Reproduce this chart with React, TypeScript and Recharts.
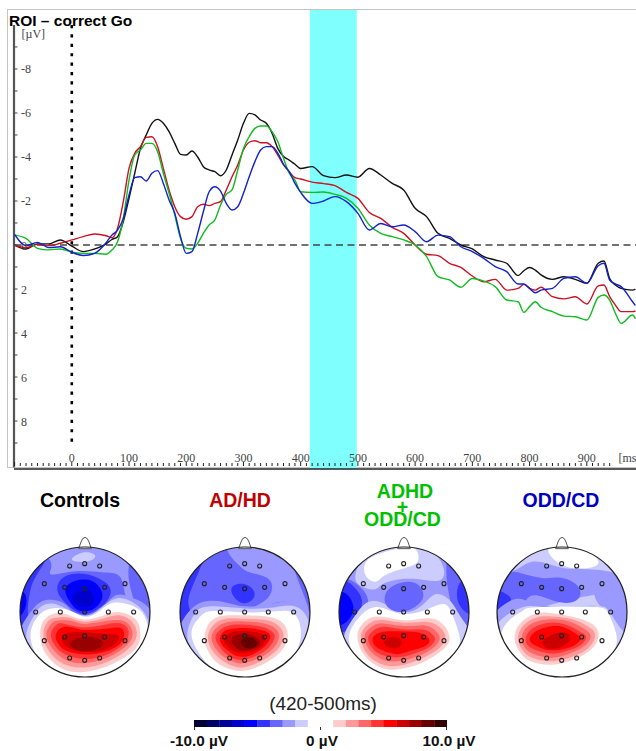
import React from 'react';
import {
  LineChart, Line, XAxis, YAxis, ReferenceArea, ReferenceLine,
  ScatterChart, Scatter, Curve, BarChart, Bar, Cell,
} from 'recharts';

// ---------- ERP waveforms ----------
const times = [-100,-80,-60,-40,-20,0,20,40,60,
  70,80,90,100,110,120,130,140,150,160,170,180,190,200,210,220,230,240,250,260,270,
  280,290,300,310,320,330,340,350,360,370,380,390,400,
  420,440,460,480,500,520,540,560,580,600,620,640,660,680,700,720,740,760,780,
  790,800,810,820,840,860,880,900,920,930,940,950,960,980,985];
const controls = [0,.18,-.05,-.05,-.23,.05,.3,.18,-.05,
  -.25,-.38,-1.06,-2.12,-3.26,-4.39,-5.0,-5.53,-5.71,-5.53,-5.15,-4.62,-4.12,-4.09,-4.27,-4.0,-3.56,-3.41,-3.33,-3.15,-3.41,
  -4.09,-4.77,-5.53,-5.98,-5.91,-5.68,-5.53,-5.08,-4.39,-4.02,-3.86,-3.67,-3.48,
  -3.56,-3.15,-3.06,-3.18,-3.08,-3.48,-3.18,-2.8,-2.5,-1.67,-1.29,-.53,-.3,0,.18,.53,.68,.83,1.39,
  1.17,1.02,1.14,1.36,1.56,1.44,1.56,1.74,.83,.73,1.52,1.82,1.97,2.05,2.0];
const adhd = [0,.12,-.03,.03,-.08,-.23,-.38,-.5,-.42,
  -.33,-.76,-1.97,-3.48,-4.17,-4.47,-4.89,-4.92,-4.47,-3.48,-2.5,-1.74,-1.29,-1.17,-1.29,-1.74,-1.85,-1.79,-1.89,-1.97,-2.5,
  -3.1,-3.64,-4.32,-4.67,-4.74,-4.65,-4.65,-4.47,-4.09,-3.64,-3.33,-3.06,-3.0,
  -2.86,-2.79,-2.7,-2.39,-2.12,-1.48,-1.21,-.8,-.53,0,.42,.48,.83,1.02,1.41,1.67,1.56,2.05,1.97,
  1.79,1.97,2.05,1.92,2.35,2.45,2.35,2.68,1.86,1.82,2.35,2.73,3.03,3.03,3.0];
const comorbid = [-.45,-.3,.15,.22,.18,.33,.38,.38,.42,
  .23,-.15,-1.2,-2.95,-4.09,-4.32,-4.62,-4.62,-4.24,-3.26,-2.35,-1.36,-.3,.15,.18,-.08,-.53,-.91,-1.14,-1.82,-2.3,
  -2.5,-3.41,-4.39,-4.92,-5.3,-5.41,-5.41,-5.15,-4.7,-3.94,-3.26,-2.95,-2.42,
  -2.39,-2.41,-2.3,-2.12,-1.67,-.91,-.53,-.38,-.23,0,.53,1.44,1.59,1.92,1.52,1.64,1.89,2.5,2.58,
  3.06,2.8,2.58,2.83,3.03,3.23,3.26,3.41,2.38,2.27,2.5,3.1,3.56,3.18,3.35];
const oddcd = [-.48,.03,-.12,.12,.08,.33,.48,.38,-.1,
  -.45,-.68,-1.21,-2.27,-3.06,-3.1,-2.91,-3.26,-3.38,-2.8,-2.05,-1.44,-.38,.38,.3,-.53,-1.52,-2.42,-2.65,-2.45,-1.89,
  -1.59,-1.74,-2.35,-3.1,-3.79,-4.32,-4.47,-4.47,-4.17,-3.67,-3.33,-2.8,-2.39,
  -1.89,-2.0,-2.2,-1.97,-1.44,-.68,-.98,-.83,-.91,-.61,-.15,-.45,-.38,.08,.3,.61,.98,1.21,1.77,
  1.77,1.97,2.17,2.05,1.97,1.52,1.44,1.74,.94,.83,1.59,1.77,1.89,2.58,2.75];
const erpData = times.map((t, i) => ({ t, controls: controls[i], adhd: adhd[i], comorbid: comorbid[i], oddcd: oddcd[i] }));

const xTicks = Array.from({ length: 106 }, (_, i) => -100 + i * 10).filter((t) => t <= 950);
const xLabels = [0, 100, 200, 300, 400, 500, 600, 700, 800, 900];
const yTicks = [-10,-9,-8,-7,-6,-5,-4,-3,-2,-1,0,1,2,3,4,5,6,7,8,9,10];
const yLabels = [-8,-6,-4,-2,0,2,4,6,8];

// ---------- scalp maps: colours ----------
const B1 = '#ccccff', B2 = '#9999ff', B3 = '#6666ff', B4 = '#3333ff', B5 = '#0000ff', B6 = '#0000cc';
const W = '#ffffff';
const R1 = '#ffcccc', R2 = '#ff9999', R3 = '#ff6666', R4 = '#ff3333', R5 = '#ff0000', R6 = '#cc0000', R7 = '#990000', R8 = '#660000';

type BandRow = [string, number[]];

// offsets of the electrodes from the head centre
const electrodes = [[-46,-138],[-1,-145],[44,-138],[-122,-85],[-61,-74],[-1,-70],[59,-74],[120,-85],
  [-148,0],[-74,0],[-1,0],[70,0],[146,0],[-122,86],[-61,75],[-1,71],[59,75],[120,86],[-46,138],[-1,145],[44,138]];

const bandsControls: BandRow[] = [
  [B3, [7,-19,445,-19,445,449,7,449]],
  [B4, [10,220,35,150,65,85,105,60,78,110,62,160,55,220,60,240,30,280]],
  [B5, [15,165,42,165,42,205,15,225]],
  [B2, [125,10,135,60,128,98,200,92,280,100,330,115,350,178,378,195,345,90,335,10]],
  [B2, [35,290,50,240,75,205,110,183,160,190,190,215,226,225,280,200,320,168,370,178,412,205,425,260,405,335,330,405,226,425,120,405,60,355]],
  [B1, [55,290,72,235,95,203,130,193,170,205,226,222,270,205,320,178,370,192,402,222,415,270,398,335,330,395,226,420,140,400,82,348]],
  [W, [68,290,82,240,110,213,150,206,190,215,226,227,265,215,300,193,345,193,388,213,408,255,403,315,350,380,280,420,226,430,150,405,93,355]],
  [B4, [148,145,170,112,226,105,278,125,298,150,288,182,256,208,226,218,195,208,162,178]],
  [B5, [172,150,200,125,245,125,270,150,272,178,248,204,213,208,188,188]],
  [B6, [193,172,225,152,248,168,242,192,213,194]],
  [B1, [192,54,225,38,252,48,232,62,205,62]],
  [R1, [96,290,102,248,130,225,170,222,226,236,290,222,330,219,372,238,386,280,368,328,300,370,226,390,160,380,112,338]],
  [R2, [105,285,116,248,140,235,180,232,226,243,290,232,330,229,365,248,376,285,353,323,295,360,226,377,165,367,122,331]],
  [R3, [114,285,128,252,150,243,190,242,226,250,290,242,330,242,355,255,364,285,343,318,290,350,226,365,170,355,132,323]],
  [R4, [127,285,143,257,170,252,226,260,290,252,330,252,351,268,349,297,323,323,280,345,226,353,170,340,142,318]],
  [R5, [141,288,157,265,190,262,226,268,290,265,328,265,339,285,323,313,280,333,226,340,175,330,152,313]],
  [R6, [161,295,178,279,226,277,285,282,320,288,309,313,270,330,226,333,190,327,168,313]],
  [R7, [187,311,213,295,252,294,275,310,252,327,213,329]],
];
const bandsAdhd: BandRow[] = [
  [B3, [484,-19,922,-19,922,449,484,449]],
  [B4, [495,215,515,150,570,72,545,140,535,190,540,232,525,275,500,255]],
  [B2, [668,10,690,70,722,97,772,120,772,165,742,192,716,214,782,194,842,188,888,210,864,130,842,70,805,10]],
  [B2, [510,290,527,235,572,192,640,187,703,197,780,192,840,187,888,217,900,280,864,355,780,405,703,420,620,405,546,355]],
  [B1, [536,290,557,228,600,202,703,205,790,202,847,202,884,238,880,303,834,370,760,405,703,415,620,400,566,354]],
  [W, [550,290,572,238,610,215,703,217,790,215,842,222,864,265,854,324,803,380,720,406,660,406,597,369]],
  [B4, [667,147,700,135,726,155,718,178,688,181]],
  [R1, [586,290,602,248,640,229,703,227,770,232,813,253,824,296,793,344,730,380,680,387,628,369,597,333]],
  [R2, [596,290,612,256,650,237,703,237,766,242,803,263,812,296,783,339,725,370,680,377,638,359,607,328]],
  [R3, [606,290,622,263,655,247,703,245,761,252,793,270,799,296,773,334,720,360,680,365,643,349,617,323]],
  [R4, [618,290,637,266,670,255,710,255,756,262,783,278,786,298,763,329,720,350,680,355,648,339,629,318]],
  [R5, [631,292,647,272,680,265,715,265,752,272,774,290,753,322,715,343,680,345,652,329,636,313]],
  [R6, [645,295,668,277,710,275,748,282,759,301,738,326,700,335,670,330,651,315]],
  [R7, [667,298,695,284,728,292,743,311,711,327,683,323]],
  [R8, [694,305,715,294,736,308,715,322]],
];
const bandsCombined: BandRow[] = [
  [B2, [15,-19,453,-19,453,449,15,449]],
  [B1, [96,92,122,46,170,25,252,20,326,52,336,114,260,114,180,128,148,144,102,129]],
  [W, [122,100,128,62,170,40,225,25,262,28,270,62,235,82,180,102,150,120]],
  [B3, [372,60,412,125,440,215,430,280,392,254,377,190,366,128]],
  [B4, [410,130,430,178,435,215,398,182]],
  [B3, [25,170,57,125,93,138,120,170,120,212,103,254,60,278,25,245]],
  [B4, [25,210,47,135,83,147,103,180,94,224,62,266,30,255]],
  [B5, [25,178,56,165,77,200,62,236,25,245]],
  [B1, [60,300,82,242,113,201,160,186,230,212,290,191,330,166,372,186,399,226,425,270,420,314,373,375,302,410,230,415,160,405,96,364]],
  [W, [75,300,92,248,128,212,170,204,230,219,300,208,352,196,379,233,395,280,390,324,343,380,272,405,230,415,170,405,106,359]],
  [B3, [183,165,213,136,262,131,286,160,274,189,232,210,192,199]],
  [R1, [100,290,117,252,160,231,235,241,300,236,344,252,365,290,349,324,297,360,235,380,175,380,121,344]],
  [R2, [110,290,127,259,165,241,235,248,295,246,336,262,353,292,334,324,292,350,235,370,178,370,128,339]],
  [R3, [120,290,137,265,170,251,235,258,290,256,324,272,337,295,319,322,282,343,235,357,180,357,136,329]],
  [R4, [130,295,147,272,180,261,235,268,285,268,314,282,323,300,304,322,272,335,225,348,175,343,144,324]],
  [R5, [145,300,167,278,235,276,282,281,305,300,289,319,252,330,215,340,175,330,154,319]],
  [R6, [178,308,200,293,223,305,205,322]],
];
const bandsOdd: BandRow[] = [
  [B1, [490,-19,928,-19,928,449,490,449]],
  [W, [680,25,740,18,808,60,772,80,720,75,686,52]],
  [B2, [490,110,555,100,620,66,700,82,770,87,864,102,860,138,820,160,650,195,490,240]],
  [B2, [816,155,884,114,925,180,915,280,870,254,838,207]],
  [B3, [490,165,548,110,580,100,650,114,702,114,750,138,750,173,702,184,640,169,602,184,572,230,530,265,490,240]],
  [B4, [490,155,538,166,542,188,490,207]],
  [B2, [490,250,560,186,620,190,709,200,810,200,860,230,880,280,860,360,780,400,709,415,620,400,540,350,500,300]],
  [B1, [520,290,537,238,590,205,640,200,709,203,800,200,844,212,875,258,890,292,855,354,792,395,709,418,618,400,566,364]],
  [W, [535,300,557,242,600,213,640,203,790,203,839,222,865,280,855,334,793,390,720,410,648,400,587,364]],
  [R1, [571,295,587,252,630,224,680,221,740,231,794,252,813,285,794,324,742,355,680,370,618,360,587,334]],
  [R2, [581,295,597,257,635,234,680,231,737,238,786,262,803,287,784,322,737,347,680,360,623,350,595,329]],
  [R3, [591,295,607,262,640,244,685,239,732,246,776,269,790,290,774,316,732,337,680,350,628,340,604,324]],
  [R4, [603,297,619,269,650,254,690,249,730,258,764,277,777,292,759,316,722,330,680,338,638,330,615,319]],
  [R5, [616,297,632,275,660,263,695,259,727,268,754,285,760,298,738,317,700,327,665,327,635,316]],
  [R6, [655,305,678,287,712,279,730,295,708,316,672,322]],
];

const heads = [
  { left: 12.3, cz: 226, bands: bandsControls },
  { left: 171.5, cz: 703, bands: bandsAdhd },
  { left: 331, cz: 234, bands: bandsCombined },
  { left: 489.3, cz: 709, bands: bandsOdd },
];
const nose = [[-19,25],[-12,5],[-7,-5],[0,-9],[7,-5],[12,5],[19,25]];

// ---------- colour bar ----------
const scaleColors = ['#000033','#000066','#000099','#0000cc','#0000ff','#3333ff','#6666ff','#9999ff','#ccccff','#ffffff',
  '#ffffff','#ffcccc','#ff9999','#ff6666','#ff3333','#ff0000','#cc0000','#990000','#660000','#330000'];
const scaleData = scaleColors.map((_, i) => ({ step: i, v: 1 }));

const PLOT_LEFT = 14;
const PLOT_BOTTOM = 469;
const SERIF = '"Liberation Serif", serif';
const SANS = '"Liberation Sans", sans-serif';

// control points pushed outward so that the closed B-spline runs through the outline that was read
const toPts = (f: number[]) => {
  let pts: { x: number; y: number }[] = [];
  for (let i = 0; i < f.length; i += 2) pts.push({ x: f[i], y: f[i + 1] });
  for (let k = 0; k < 2; k++) {
    const n = pts.length;
    const src = pts;
    pts = src.map((p, i) => {
      const a = src[(i + n - 1) % n];
      const b = src[(i + 1) % n];
      return { x: p.x + (2 * p.x - a.x - b.x) / 6, y: p.y + (2 * p.y - a.y - b.y) / 6 };
    });
  }
  return pts;
};

function YTick(props: any) {
  const { y, payload } = props;
  const v = payload.value;
  return (
    <g>
      {v !== -10 && v !== 10 && <line x1={PLOT_LEFT} x2={PLOT_LEFT + 3.5} y1={y} y2={y} stroke="#444" strokeWidth={1} />}
      {yLabels.includes(v) && (
        <text x={PLOT_LEFT + 7} y={y + 4.5} fontFamily={SERIF} fontSize={12} fill="#444">{v}</text>
      )}
      {v === -10 && (
        <text x={PLOT_LEFT + 7.5} y={y + 13.5} fontFamily={SERIF} fontSize={12} fill="#444">[µV]</text>
      )}
    </g>
  );
}

function XTick(props: any) {
  const { x, payload } = props;
  const v = payload.value;
  const major = v % 100 === 0;
  return (
    <g>
      {v !== 950 && <line x1={x} x2={x} y1={PLOT_BOTTOM - (major ? 7 : 6)} y2={PLOT_BOTTOM - 3} stroke="#222" strokeWidth={1} />}
      {xLabels.includes(v) && (
        <text x={x} y={PLOT_BOTTOM - 7.5} textAnchor="middle" fontFamily={SERIF} fontSize={12} fill="#444">{v}</text>
      )}
      {v === 950 && (
        <text x={x + 3} y={PLOT_BOTTOM - 7.5} fontFamily={SERIF} fontSize={12} fill="#444">[ms]</text>
      )}
    </g>
  );
}

function Head({ left, cz, bands, id }: any) {
  const clipId = `head-clip-${id}`;
  const fillBand = (color: string) => (p: any) => (
    <g clipPath={`url(#${clipId})`}>
      <Curve points={p.points} type="basisClosed" fill={color} stroke="none" />
    </g>
  );
  return (
    <div style={{ position: 'absolute', left, top: 533.7 }}>
      <ScatterChart width={146} height={156} margin={{ top: 0, right: 0, bottom: 0, left: 0 }}>
        <defs>
          <clipPath id={clipId}>
            <circle cx={73} cy={78} r={65} />
          </clipPath>
        </defs>
        <XAxis dataKey="x" type="number" hide domain={[cz - 219, cz + 219]} allowDataOverflow />
        <YAxis dataKey="y" type="number" hide reversed width={0} domain={[-19, 449]} allowDataOverflow />
        {bands.map((b: BandRow, i: number) => (
          <Scatter key={i} data={toPts(b[1])} line={fillBand(b[0])} lineType="joint" shape={() => null} isAnimationActive={false} />
        ))}
        <Scatter
          data={nose.map(([dx, dy]) => ({ x: cz + dx, y: dy }))}
          line={(p: any) => <Curve points={p.points} type="linearClosed" fill="#fff" stroke="#555" strokeWidth={1} />}
          lineType="joint"
          shape={() => null}
          isAnimationActive={false}
        />
        <Scatter
          data={[{ x: cz, y: 215 }]}
          shape={(p: any) => <circle cx={p.cx} cy={p.cy} r={65} fill="none" stroke="#222" strokeWidth={1.2} />}
          isAnimationActive={false}
        />
        <Scatter
          data={electrodes.map(([dx, dy]) => ({ x: cz + dx, y: 215 + dy }))}
          shape={(p: any) => <circle cx={p.cx} cy={p.cy} r={2} fill="none" stroke="#222" strokeWidth={1.1} />}
          isAnimationActive={false}
        />
      </ScatterChart>
    </div>
  );
}

function Txt({ x, y, color, size, weight, children, family }: any) {
  return (
    <div
      style={{
        position: 'absolute', left: x, top: y, transform: 'translate(-50%, -50%)', whiteSpace: 'nowrap',
        color, fontSize: size, fontWeight: weight ?? 'bold', fontFamily: family ?? SANS, lineHeight: 1,
      }}
    >
      {children}
    </div>
  );
}

export default function App() {
  return (
    <div style={{ position: 'absolute', left: 0, top: 0, width: 636, height: 751, overflow: 'hidden', background: '#fff' }}>
      <div style={{ position: 'absolute', left: 7, top: 9, width: 629, height: 459, borderLeft: '1.5px solid #c4c4c4', borderTop: '1.5px solid #c4c4c4', borderBottom: '1.5px solid #c4c4c4', boxSizing: 'border-box' }} />
      <div style={{ position: 'absolute', left: 0, top: 0 }}>
        <LineChart width={636} height={475} data={erpData} margin={{ top: 10, right: 0, bottom: 5, left: PLOT_LEFT - 1 }}>
          <XAxis
            dataKey="t" type="number" domain={[-101, 986]} allowDataOverflow height={1}
            ticks={xTicks} interval={0} tick={<XTick />} tickLine={false} stroke="#222" strokeWidth={1.5}
          />
          <YAxis
            type="number" reversed width={1} domain={[-10.68, 10.18]} allowDataOverflow
            ticks={yTicks} interval={0} tick={<YTick />} tickLine={false} axisLine={false}
          />
          <ReferenceArea x1={416} x2={498} y1={-10.68} y2={10.18} fill="#80ffff" fillOpacity={1} stroke="none" />
          <ReferenceLine y={0} stroke="#444" strokeWidth={1.5} strokeDasharray="7 4.5" />
          <ReferenceLine
            segment={[{ x: 0, y: -10 }, { x: 0, y: 9 }]}
            stroke="#000" strokeWidth={2.6} strokeDasharray="3.2 6.2"
          />
          <ReferenceLine segment={[{ x: -101, y: -10 }, { x: -101, y: 10.1 }]} stroke="#555" strokeWidth={2.2} />
          <Line dataKey="controls" type="monotone" stroke="#111111" strokeWidth={1.4} dot={false} isAnimationActive={false} />
          <Line dataKey="adhd" type="monotone" stroke="#cc1122" strokeWidth={1.4} dot={false} isAnimationActive={false} />
          <Line dataKey="comorbid" type="monotone" stroke="#11bb22" strokeWidth={1.4} dot={false} isAnimationActive={false} />
          <Line dataKey="oddcd" type="monotone" stroke="#1122cc" strokeWidth={1.4} dot={false} isAnimationActive={false} />
        </LineChart>
      </div>

      <div style={{ position: 'absolute', left: 9, top: 12.5, fontFamily: SANS, fontWeight: 'bold', fontSize: 15.5, lineHeight: 1, color: '#000', whiteSpace: 'nowrap' }}>
        ROI – correct Go
      </div>

      <Txt x={80} y={500.5} size={19.5} color="#000000">Controls</Txt>
      <Txt x={240} y={500.5} size={19.5} color="#c00000">AD/HD</Txt>
      <Txt x={405} y={491.5} size={19.5} color="#00c000">ADHD</Txt>
      <Txt x={402.5} y={507.5} size={19.5} color="#00c000">+</Txt>
      <Txt x={402.5} y={519.5} size={19.5} color="#00c000">ODD/CD</Txt>
      <Txt x={561} y={500.5} size={19.5} color="#0000c0">ODD/CD</Txt>

      {heads.map((h, i) => (
        <Head key={i} id={i} left={h.left} cz={h.cz} bands={h.bands} />
      ))}

      <Txt x={323} y={703} size={19} weight="normal" color="#222">(420-500ms)</Txt>
      <div style={{ position: 'absolute', left: 194, top: 719.5 }}>
        <BarChart width={253} height={7.5} data={scaleData} barCategoryGap={0} margin={{ top: 0, right: 0, bottom: 0, left: 0 }}>
          <XAxis dataKey="step" hide />
          <YAxis hide width={0} domain={[0, 1]} />
          <Bar dataKey="v" isAnimationActive={false}>
            {scaleColors.map((c, i) => (
              <Cell key={i} fill={c} />
            ))}
          </Bar>
        </BarChart>
      </div>
      {[194, 320, 446].map((x) => (
        <div key={x} style={{ position: 'absolute', left: x, top: 727, width: 1, height: 3, background: '#333' }} />
      ))}
      <Txt x={199} y={741} size={15.3} color="#111">-10.0 µV</Txt>
      <Txt x={322} y={741} size={15.3} color="#111">0 µV</Txt>
      <Txt x={449} y={741} size={15.3} color="#111">10.0 µV</Txt>
    </div>
  );
}
